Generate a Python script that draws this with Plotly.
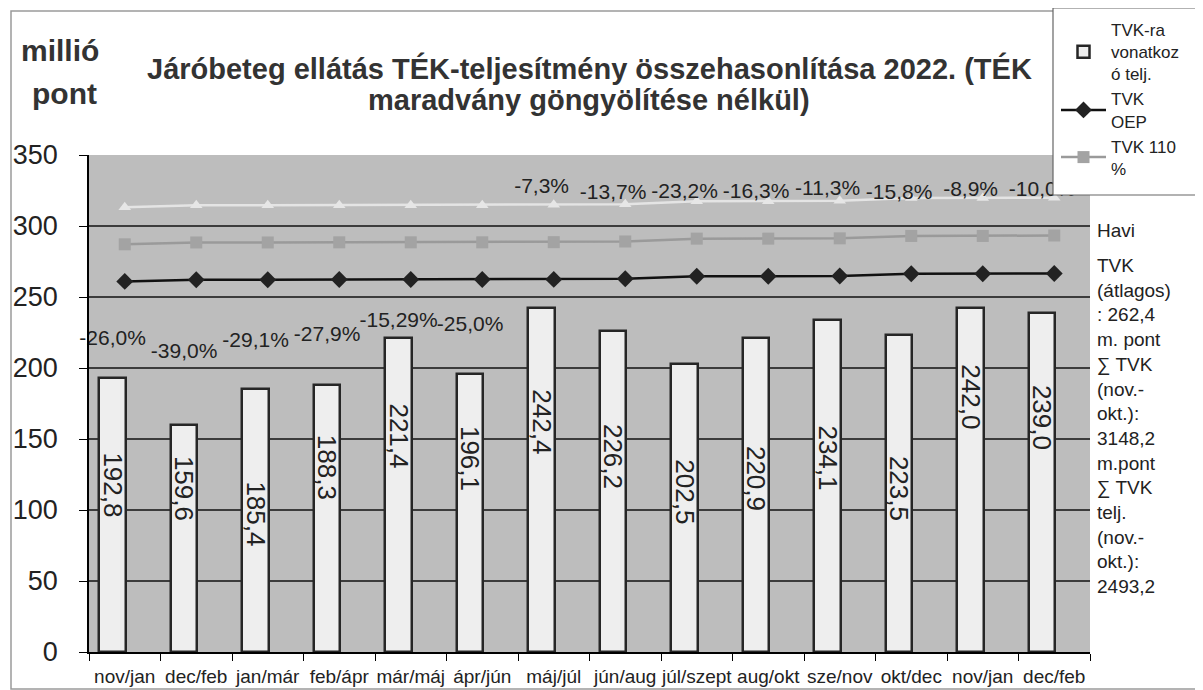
import plotly.graph_objects as go

# ---------------- data ----------------
categories = ["nov/jan", "dec/feb", "jan/már", "feb/ápr", "már/máj", "ápr/jún", "máj/júl",
              "jún/aug", "júl/szept", "aug/okt", "sze/nov", "okt/dec", "nov/jan", "dec/feb"]
telj = [192.8, 159.6, 185.4, 188.3, 221.4, 196.1, 242.4, 226.2, 202.5, 220.9, 234.1, 223.5, 242.0, 239.0]
tvk_oep = [261.0, 262.2, 262.2, 262.3, 262.3, 262.3, 262.4, 262.8, 264.6, 264.6, 264.8, 266.4, 266.4, 266.6]
tvk_110 = [287.1, 288.4, 288.4, 288.5, 288.5, 288.5, 288.6, 289.1, 291.1, 291.1, 291.3, 293.0, 293.0, 293.3]
tvk_120 = [313.2, 314.6, 314.6, 314.7, 314.7, 314.7, 314.9, 315.4, 317.5, 317.5, 317.8, 319.7, 319.7, 319.9]
pct_labels = ["-26,0%", "-39,0%", "-29,1%", "-27,9%", "-15,29%", "-25,0%", "-7,3%",
              "-13,7%", "-23,2%", "-16,3%", "-11,3%", "-15,8%", "-8,9%", "-10,0%"]
y_ticks = [0, 50, 100, 150, 200, 250, 300, 350]
side_note_head = "Havi"
side_note_body = ["TVK", "(átlagos)", ": 262,4", "m. pont", "∑ TVK", "(nov.-", "okt.):", "3148,2",
                  "m.pont", "∑ TVK", "telj.", "(nov.-", "okt.):", "2493,2"]

# ---------------- label placement (positions only) ----------------
bar_label_y = [117.6, 115.5, 97.2, 130.3, 152.1, 136.6, 162.0, 138.0, 112.7, 122.5, 136.6, 115.5, 179.6, 165.5]
pct_label_y = [219.7, 210.6, 218.3, 222.5, 232.4, 229.6, 326.8, 322.5, 323.2, 323.2, 325.4, 322.5, 324.6, 324.6]

# the page body adds an 8px offset; screen-space plot area: x 89..1090, y 155..652
OFF = 8
W, H = 1203 - OFF, 690 - OFF
PX0, PX1, PY0, PY1 = 89, 1090, 155, 652
L, T = PX0 - OFF, PY0 - OFF
PW, PH = PX1 - PX0, PY1 - PY0
R, B = W - L - PW, H - T - PH


def xp(px):
    return (px - PX0) / PW


def yp(py):
    return (PY1 - py) / PH


idx = list(range(len(categories)))
bar_shift = -0.17
bar_x = [i + bar_shift for i in idx]

FONT = "Liberation Sans, Arial, sans-serif"
TXT = "#222222"

fig = go.Figure()

fig.add_trace(go.Bar(
    x=bar_x, y=telj, width=0.37,
    name="TVK-ra<br>vonatkoz<br>ó telj.", legendrank=1,
    marker=dict(color="#eeeeee", line=dict(color="#262626", width=2.5)),
    hoverinfo="y",
))

fig.add_trace(go.Scatter(
    x=idx, y=tvk_120, mode="lines+markers", showlegend=False, name="TVK 120 %",
    line=dict(color="#e4e4e4", width=2.5),
    marker=dict(symbol="triangle-up", size=11, color="#e6e6e6"),
))

fig.add_trace(go.Scatter(
    x=idx, y=tvk_110, mode="lines+markers", name="TVK 110<br>%", legendrank=3,
    line=dict(color="#9a9a9a", width=2.5),
    marker=dict(symbol="square", size=12, color="#a3a3a3"),
))

fig.add_trace(go.Scatter(
    x=idx, y=tvk_oep, mode="lines+markers", name="TVK<br>OEP", legendrank=2,
    line=dict(color="#111111", width=2.5),
    marker=dict(symbol="diamond", size=13, color="#222222"),
))

fig.add_trace(go.Scatter(
    x=bar_x, y=pct_label_y, mode="text", text=pct_labels, showlegend=False,
    textfont=dict(family=FONT, size=21, color=TXT), cliponaxis=False, hoverinfo="skip",
))

annotations = []
for i, v in enumerate(telj):
    annotations.append(dict(
        x=bar_x[i], y=bar_label_y[i], xref="x", yref="y",
        text=f"{v:.1f}".replace(".", ","), textangle=90, showarrow=False,
        font=dict(family=FONT, size=26, color=TXT),
    ))

annotations += [
    dict(x=xp(589), y=yp(68), xref="paper", yref="paper", showarrow=False,
         text="<b>Járóbeteg ellátás TÉK-teljesítmény összehasonlítása 2022. (TÉK</b>",
         font=dict(family=FONT, size=29, color="#333333"), xanchor="center", yanchor="middle"),
    dict(x=xp(589), y=yp(100), xref="paper", yref="paper", showarrow=False,
         text="<b>maradvány göngyölítése nélkül)</b>",
         font=dict(family=FONT, size=29, color="#333333"), xanchor="center", yanchor="middle"),
    dict(x=xp(60), y=yp(50), xref="paper", yref="paper", showarrow=False,
         text="<b>millió</b>", font=dict(family=FONT, size=30, color="#333333"),
         xanchor="center", yanchor="middle"),
    dict(x=xp(64), y=yp(93), xref="paper", yref="paper", showarrow=False,
         text="<b>pont</b>", font=dict(family=FONT, size=30, color="#333333"),
         xanchor="center", yanchor="middle"),
    dict(x=xp(1095), y=yp(230), xref="paper", yref="paper", showarrow=False,
         text=side_note_head, font=dict(family=FONT, size=19, color=TXT),
         xanchor="left", yanchor="middle", align="left"),
    dict(x=xp(1095), y=yp(253), xref="paper", yref="paper", showarrow=False,
         text="<br>".join(side_note_body),
         font=dict(family=FONT, size=19, color=TXT),
         xanchor="left", yanchor="top", align="left"),
]

shapes = [
    dict(type="rect", xref="paper", yref="paper", x0=xp(11), x1=xp(1215), y0=yp(689), y1=yp(11),
         line=dict(color="#9a9a9a", width=1.5), fillcolor="rgba(0,0,0,0)", layer="below"),
    dict(type="rect", xref="paper", yref="paper", x0=xp(1053), x1=xp(1215), y0=yp(195), y1=yp(8),
         line=dict(color="#666666", width=1.2), fillcolor="#ffffff", layer="above"),
]

fig.update_layout(
    width=W, height=H, autosize=False,
    margin=dict(l=L, r=R, t=T, b=B, pad=0, autoexpand=False),
    paper_bgcolor="#ffffff", plot_bgcolor="#bdbdbd",
    font=dict(family=FONT, color=TXT),
    bargap=0,
    showlegend=True,
    legend=dict(x=xp(1056), y=yp(12), xanchor="left", yanchor="top",
                bgcolor="rgba(0,0,0,0)", borderwidth=0,
                font=dict(family=FONT, size=17, color=TXT),
                itemwidth=45, tracegroupgap=0, traceorder="normal"),
    annotations=annotations,
    shapes=shapes,
    xaxis=dict(
        range=[-0.5, len(categories) - 0.5], tickmode="array", tickvals=idx, ticktext=categories,
        ticks="", showgrid=False, zeroline=False, showline=True, linecolor="#000000", linewidth=1.5,
        tickfont=dict(family=FONT, size=19, color=TXT), tickangle=0, automargin=False,
        ticklabelstandoff=6,
        minor=dict(tickmode="array", tickvals=[i - 0.5 for i in range(len(categories) + 1)],
                   ticks="outside", ticklen=7, tickcolor="#000000", showgrid=False),
        fixedrange=True,
    ),
    yaxis=dict(
        range=[0, 350], tickmode="array", tickvals=y_ticks, automargin=False,
        ticks="outside", ticklen=8, tickcolor="#000000",
        showline=True, linecolor="#000000", linewidth=1.5,
        showgrid=True, gridcolor="#3c3c3c", gridwidth=1.5, zeroline=False,
        tickfont=dict(family=FONT, size=27, color=TXT),
        ticklabelstandoff=16,
        fixedrange=True,
    ),
)

fig.write_html("out.html")
